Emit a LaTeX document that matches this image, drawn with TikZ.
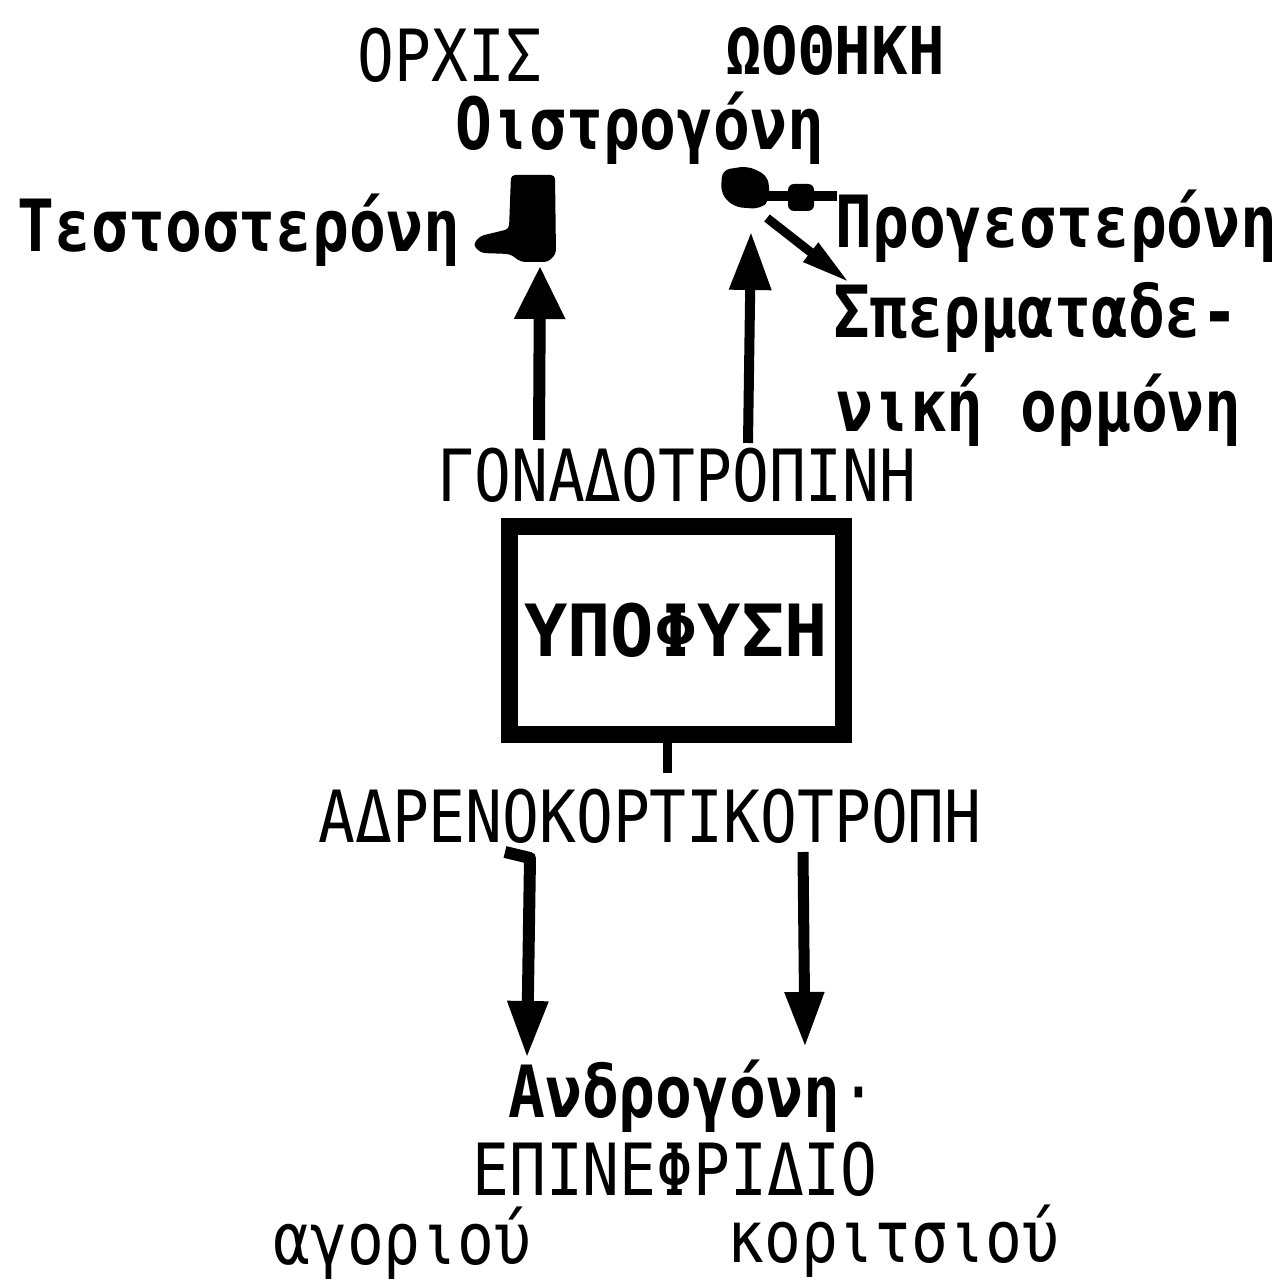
\documentclass[tikz,border=0pt]{standalone}
\usepackage{fontspec}
\usetikzlibrary{arrows.meta}
\newfontfamily\tw[FakeStretch=0.85]{DejaVu Sans Mono}
\newfontfamily\twmid[FakeStretch=0.92]{DejaVu Sans Mono}
\newfontfamily\twwide{DejaVu Sans Mono}
\tikzset{
  lab/.style={inner sep=0pt, font=\tw\fontsize{36}{40}\selectfont},
  labb/.style={inner sep=0pt, font=\tw\bfseries\fontsize{36}{40}\selectfont},
}
\begin{document}
\begin{tikzpicture}[x=0.5pt, y=-0.5pt]
\fill[white] (0,0) rectangle (1287,1283);
\useasboundingbox (0,0) rectangle (1287,1283);

% ---- labels ----
\node[lab, anchor=base] (orchis) at (450,82) {ΟΡΧΙΣ};
\node[inner sep=0pt, font=\twmid\bfseries\fontsize{33}{38}\selectfont, anchor=base] (oothiki) at (835,75) {ΩΟΘΗΚΗ};
\node[labb, anchor=base] (oistr) at (640,150) {Οιστρογόνη};
\node[labb, anchor=base] (test) at (239,252) {Τεστοστερόνη};
\node[labb, anchor=base west] (prog) at (835,248) {Προγεστερόνη};
\node[labb, anchor=base west] (sperm1) at (833,338) {Σπερματαδε-};
\node[labb, anchor=base west] (sperm2) at (836,432) {νική ορμόνη};
\node[lab, anchor=base] (gonad) at (677,502) {ΓΟΝΑΔΟΤΡΟΠΙΝΗ};
\node[lab, anchor=base] (adren) at (650,842) {ΑΔΡΕΝΟΚΟΡΤΙΚΟΤΡΟΠΗ};
\node[labb, anchor=base west] (andro) at (508,1117) {Ανδρογόνη\mdseries·};
\node[lab, anchor=base west] (epin) at (472,1195) {ΕΠΙΝΕΦΡΙΔΙΟ};
\node[lab, anchor=base west] (agor) at (273,1264) {αγοριού};
\node[lab, anchor=base west] (korit) at (727,1262) {κοριτσιού};

% ---- pituitary box ----
\node[draw, line width=8.5pt, minimum width=167pt, minimum height=104pt,
      inner sep=0pt, font=\twwide\bfseries\fontsize{36}{40}\selectfont]
      (hyp) at (676,630.5) {ΥΠΟΦΥΣΗ};

% ---- testis shape ----
\fill[rounded corners=2pt] (511,175) -- (555,175) -- (556,254) -- (548,262)
  -- (521,262) -- (510,254) -- (481,253) -- (473,245) -- (480,236)
  -- (497,232) -- (509,229) -- cycle;
\coordinate (testisS) at (540,266);

% ---- ovary shape ----
\fill[rounded corners=4pt] (722,170) -- (748,166) -- (768,176) -- (770,200)
  -- (760,209) -- (734,207) -- (721,194) -- cycle;
\coordinate (ovR) at (764,196);
\coordinate (ovS) at (751,232);
\coordinate (ovD) at (767,218);
\coordinate (progin) at (837,196);
\coordinate (spermin) at (850,283);
\draw[line width=5pt] (ovR) -- (progin);
\fill[rounded corners=3pt] (788,184) rectangle (814,211);
\draw[line width=4.5pt, -{Triangle[length=25pt,width=11pt]}] (ovD) -- (spermin);

% ---- gonadotropin arrows ----
\coordinate (g1) at (539,440);
\coordinate (g2) at (748,443);
\draw[line width=6pt, -{Triangle[length=26.5pt,width=24pt]}] (g1) -- (testisS);
\draw[line width=5pt, -{Triangle[length=29pt,width=20pt]}] (g2) -- (ovS);

% ---- tick under box ----
\coordinate (tickend) at (667,773);
\draw[line width=4.5pt] (hyp.south -| tickend) -- (tickend);

% ---- adrenocorticotropin arrows ----
\coordinate (a1s) at (505,852);
\coordinate (a1k) at (530,858);
\coordinate (a1e) at (527,1058);
\coordinate (a2s) at (803,852);
\coordinate (a2e) at (805,1047);
\draw[line width=6pt, line join=round, -{Triangle[length=28.5pt,width=19pt]}] (a1s) -- (a1k) -- (a1e);
\draw[line width=5.5pt, -{Triangle[length=27.5pt,width=18.5pt]}] (a2s) -- (a2e);
\end{tikzpicture}
\end{document}
